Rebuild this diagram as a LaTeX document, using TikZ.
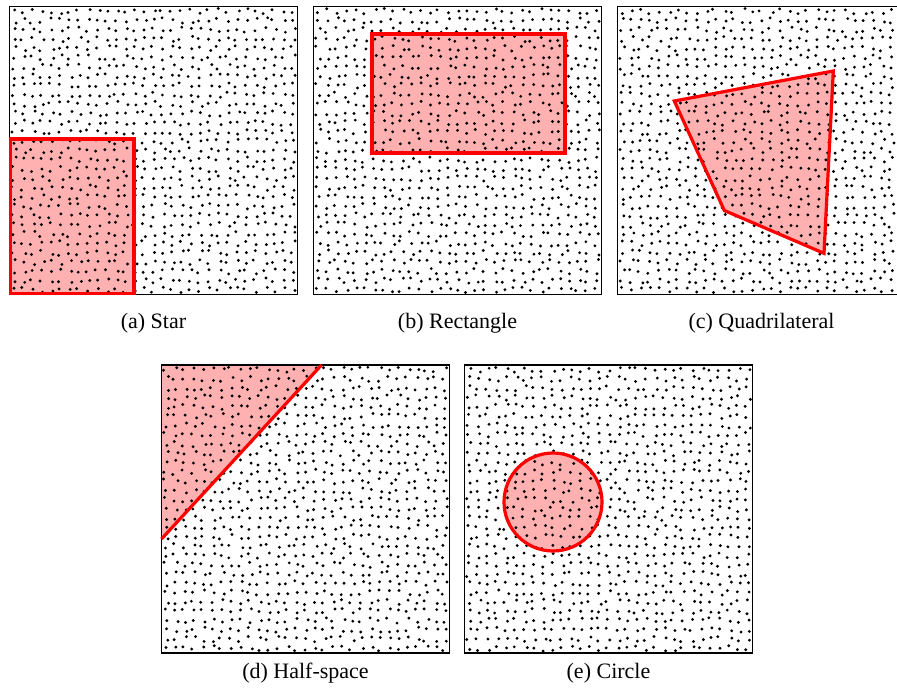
\documentclass[tikz,border=0pt]{standalone}
\usepackage{fontspec}
\setmainfont{Liberation Serif}
\newcommand\dotpanel[2]{%
  \fill[black] \foreach \i in {0,...,30}{\foreach \j in {0,...,30}{
    ({#1+(\i+0.5)*9.29+2.7*rand},{#2+(\j+0.5)*9.29+2.7*rand}) circle[radius=1.6]
  }};%
}
\begin{document}
\begin{tikzpicture}[x=1pt,y=-1pt]
\tikzset{
  frame/.style={draw=black,line width=1.6pt},
  region/.style={fill={rgb,255:red,255;green,176;blue,176}},
  regionline/.style={draw=red,line width=3.2pt,line join=miter},
  caption/.style={font=\fontsize{22}{26}\selectfont, anchor=center, inner sep=0pt}
}
\useasboundingbox (0,0) rectangle (897,691);
\pgfmathsetseed{7}
% (a) Star
\fill[region] (10.5,139) rectangle (134,293.5);
\dotpanel{9.5}{6.5}
\draw[frame] (9.5,6.5) rectangle (297.5,294.5);
\draw[regionline] (10.5,139) rectangle (134,293.5);
\node[caption] (capa) at (153.5,323) {(a) Star};
% (b) Rectangle
\fill[region] (372,34) rectangle (565,153);
\dotpanel{313.5}{6.5}
\draw[frame] (313.5,6.5) rectangle (601.5,294.5);
\draw[regionline] (372,34) rectangle (565,153);
\node[caption] (capb) at (457.5,323) {(b) Rectangle};
% (c) Quadrilateral
\fill[region] (674.3,101) -- (833.3,71) -- (824,253.3) -- (724.3,210.5) -- cycle;
\dotpanel{617.5}{6.5}
\draw[frame] (617.5,6.5) rectangle (905.5,294.5);
\draw[regionline] (674.3,101) -- (833.3,71) -- (824,253.3) -- (724.3,210.5) -- cycle;
\node[caption] (capc) at (761.5,323) {(c) Quadrilateral};
% (d) Half-space
\fill[region] (161.5,365) -- (321.5,365) -- (161.5,539) -- cycle;
\dotpanel{161.5}{365}
\draw[frame] (161.5,365) rectangle (449.5,653);
\draw[regionline] (321.5,365) -- (161.5,539);
\node[caption] (capd) at (305.5,673) {(d) Half-space};
% (e) Circle
\fill[region] (553,502) circle[radius=49];
\dotpanel{464.5}{365}
\draw[frame] (464.5,365) rectangle (752.5,653);
\draw[regionline] (553,502) circle[radius=49];
\node[caption] (cape) at (608.5,673) {(e) Circle};
\end{tikzpicture}
\end{document}
